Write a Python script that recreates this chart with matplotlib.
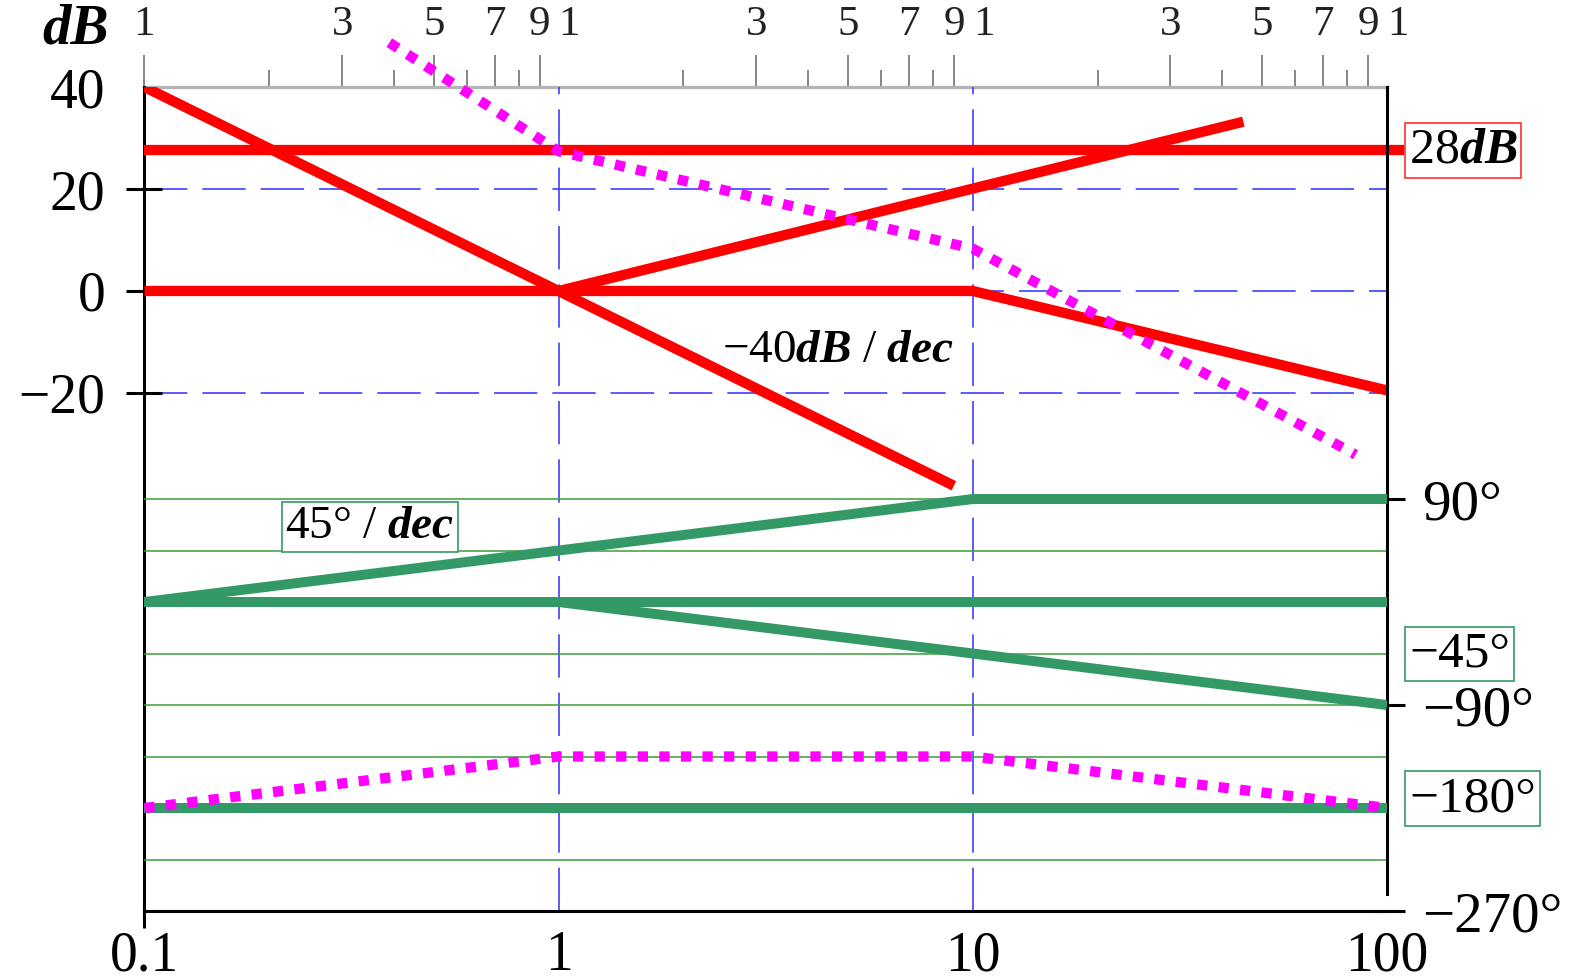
import numpy as np
import matplotlib.pyplot as plt
from matplotlib.ticker import FixedLocator, NullFormatter, NullLocator

plt.rcParams['font.family'] = 'Liberation Serif'
plt.rcParams['mathtext.fontset'] = 'custom'
plt.rcParams['mathtext.rm'] = 'Liberation Serif'
plt.rcParams['mathtext.it'] = 'Liberation Serif:italic'
plt.rcParams['mathtext.bf'] = 'Liberation Serif:bold'
plt.rcParams['mathtext.bfit'] = 'Liberation Serif:bold:italic'
plt.rcParams['lines.solid_capstyle'] = 'butt'

# --- amplitude asymptotes (dB)
gain_x = [0.1, 110]
gain_y = [27.6, 27.6]
integ2_x = [0.1, 9]
integ2_y = [40, -38.2]
zero_x = [1, 45]
zero_y = [0, 33.2]
pole_x = [0.1, 10, 100]
pole_y = [0, 0, -19.5]
total_db_x = [0.39, 1, 10, 84]
total_db_y = [48.7, 27.4, 8.3, -32.1]

# --- phase asymptotes (deg)
ph_gain_x = [0.1, 100]
ph_gain_y = [0, 0]
ph_zero_x = [0.1, 10, 100]
ph_zero_y = [0, 90, 90]
ph_pole_x = [1, 100]
ph_pole_y = [0, -90]
ph_integ2_x = [0.1, 100]
ph_integ2_y = [-180, -180]
total_ph_x = [0.1, 1, 10, 100]
total_ph_y = [-180, -135, -135, -180]

# --- axes ticks
x_ticks = [0.1, 1, 10, 100]
x_labels = ['0.1', '1', '10', '100']
db_ticks = [40, 20, 0, -20]
db_labels = ['40', '20', '0', '\u221220']
ph_ticks = [90, -90, -270]
ph_labels = ['90°', '\u221290°', '\u2212270°']
ph_grid = [90, 45, 0, -45, -90, -135, -180, -225]
top_major = [0.1, 0.3, 0.5, 0.7, 0.9, 1, 3, 5, 7, 9, 10, 30, 50, 70, 90, 100]
top_labels = ['1', '3', '5', '7', '9'] * 3 + ['1']
top_minor = [0.2, 0.4, 0.6, 0.8, 2, 4, 6, 8, 20, 40, 60, 80]

red = '#ff0000'
green = '#339966'
magenta = '#ff00ff'
blue = '#4040ff'

fig = plt.figure(figsize=(15.74, 9.8), dpi=100)
ax = fig.add_axes([0.0918, 0.0704, 0.7894, 0.8408])
ax.set_xscale('log')
ax.set_xlim(0.1, 100)
ax.set_ylim(-121.6, 40)

# grille bleue
for v in [20, 0, -20]:
    ax.axhline(v, color=blue, lw=1.2, ls=(0, (26, 9)), zorder=1)
for v in [1, 10]:
    ax.axvline(v, color=blue, lw=1.2, ls=(0, (26, 9)), zorder=1)

ax.plot(gain_x, gain_y, color=red, lw=7.4, zorder=3, clip_on=False)
ax.plot(integ2_x, integ2_y, color=red, lw=7.4, zorder=3)
ax.plot(zero_x, zero_y, color=red, lw=7.4, zorder=3)
ax.plot(pole_x, pole_y, color=red, lw=7.4, zorder=3)
ax.plot(total_db_x, total_db_y, color=magenta, lw=7.4, ls=(0, (1, 1.1)),
        zorder=4, clip_on=False)

ax.set_xticks(x_ticks, x_labels)
ax.xaxis.set_minor_locator(NullLocator())
ax.tick_params(axis='x', direction='out', length=12, width=2.2, labelsize=40, pad=2)
ax.set_yticks(db_ticks, db_labels)
ax.tick_params(axis='y', direction='inout', length=26, width=2.2, labelsize=40, pad=15)
for s in ['top', 'right']:
    ax.spines[s].set_visible(False)
for s in ['left', 'bottom']:
    ax.spines[s].set_linewidth(2.2)

ax.text(4.72, -11.8, r'$-40\mathbfit{dB}\ /\ \mathbfit{dec}$', ha='center', va='center',
        fontsize=34, zorder=5)
ax.text(113, 27.6, r'$28\mathbfit{dB}$', ha='left', va='center', fontsize=36, zorder=5,
        bbox=dict(boxstyle='square,pad=0.08', fc='white', ec='#ff3030', lw=1.2), clip_on=False)

# axe du haut
sec = ax.secondary_xaxis('top')
sec.set_xticks(top_major, top_labels)
sec.xaxis.set_minor_locator(FixedLocator(top_minor))
sec.xaxis.set_minor_formatter(NullFormatter())
sec.tick_params(which='major', length=23, width=1.1, color='#666666', labelsize=31,
                labelcolor='#222222', pad=8)
sec.tick_params(which='minor', length=12, width=1.1, color='#666666')
sec.spines['top'].set_color('#b4b4b4')
sec.spines['top'].set_linewidth(2.4)

# phase
ax2 = ax.twinx()
ax2.set_ylim(-270, 450)
for v in ph_grid:
    ax2.axhline(v, color='#3c9c3c', lw=1.1, zorder=1)
ax2.plot(ph_gain_x, ph_gain_y, color=green, lw=7.2, zorder=3)
ax2.plot(ph_zero_x, ph_zero_y, color=green, lw=7.2, zorder=3)
ax2.plot(ph_pole_x, ph_pole_y, color=green, lw=7.2, zorder=3)
ax2.plot(ph_integ2_x, ph_integ2_y, color=green, lw=7.2, zorder=3)
ax2.plot(total_ph_x, total_ph_y, color=magenta, lw=7.4, ls=(0, (1, 1.1)), zorder=4)

ax2.set_yticks(ph_ticks, ph_labels)
ax2.tick_params(axis='y', direction='inout', length=26, width=2.2, labelsize=41, pad=12)
for s in ['top', 'bottom', 'left']:
    ax2.spines[s].set_visible(False)
ax2.spines['right'].set_linewidth(2.2)
ax2.spines['right'].set_bounds(-255, 450)

box_g = dict(boxstyle='square,pad=0.08', fc='white', ec=green, lw=1.2)
ax2.text(0.35, 65.5, r'$45°\ /\ \mathbfit{dec}$', ha='center', va='center', fontsize=34,
         bbox=box_g, zorder=5)
ax2.text(113, -45.4, '\u221245°', ha='left', va='center', fontsize=37, bbox=box_g,
         clip_on=False, zorder=5)
ax2.text(113, -172, '\u2212180°', ha='left', va='center', fontsize=37, bbox=box_g,
         clip_on=False, zorder=5)

fig.text(76 / 1574, 1 - 30 / 980, 'dB', ha='center', va='center', fontsize=41,
         weight='bold', style='italic')

# twinx remet les ticks a gauche : on cache apres
ax.yaxis.get_major_ticks()[0].tick1line.set_visible(False)   # pas de tick a 40
for t in ax.xaxis.get_major_ticks()[1:]:
    t.tick1line.set_visible(False)
# les "1" des decades : pas de tick, decales a droite
for t, pos, lab in zip(sec.xaxis.get_major_ticks(), top_major, top_labels):
    if pos >= 1 and lab == '1':
        t.tick1line.set_visible(False)
        t.tick2line.set_visible(False)
        t.label2.set_horizontalalignment('left')

fig.savefig('out.png', dpi=100)
